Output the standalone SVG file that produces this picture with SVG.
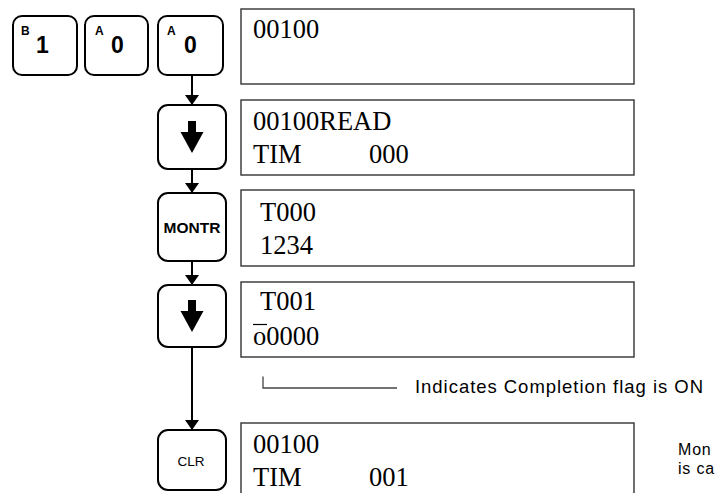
<svg xmlns="http://www.w3.org/2000/svg" width="718" height="493" viewBox="0 0 718 493">
<style>
.key{fill:#fff;stroke:#000;stroke-width:2}
.disp{fill:#fff;stroke:#333;stroke-width:1.4}
.lcd{font-family:"Liberation Serif",serif;font-size:26.5px;fill:#000}
.sup{font-family:"Liberation Sans",sans-serif;font-size:12px;font-weight:bold;fill:#000}
.big{font-family:"Liberation Sans",sans-serif;font-size:23px;font-weight:bold;fill:#000}
.note{font-family:"Liberation Sans",sans-serif;font-size:18.5px;fill:#000}
.conn{stroke:#000;stroke-width:2;fill:none}
</style>
<defs>
<marker id="ah" viewBox="0 0 10 14" refX="10" refY="7" markerWidth="10" markerHeight="14" markerUnits="userSpaceOnUse" orient="auto">
<path d="M0,0 L10,7 L0,14 z" fill="#000"/>
</marker>
<path id="dn" d="M-4,-16 H4 V-5 H11.5 L0,16 L-11.5,-5 H-4 z" fill="#000"/>
</defs>
<g id="connectors">
<line class="conn" x1="192" y1="75" x2="192" y2="105" marker-end="url(#ah)"/>
<line class="conn" x1="192" y1="169" x2="192" y2="193" marker-end="url(#ah)"/>
<line class="conn" x1="192" y1="262" x2="192" y2="285" marker-end="url(#ah)"/>
<line class="conn" x1="192" y1="347" x2="192" y2="430" marker-end="url(#ah)"/>
</g>
<g id="key-1">
<rect class="key" x="13" y="16" width="64" height="59" rx="9"/>
<text class="sup" x="21" y="35">B</text>
<text class="big" x="36" y="53">1</text>
</g>
<g id="key-0a">
<rect class="key" x="85" y="16" width="63" height="59" rx="9"/>
<text class="sup" x="95" y="35">A</text>
<text class="big" x="111" y="53">0</text>
</g>
<g id="key-0b">
<rect class="key" x="158" y="16" width="65" height="59" rx="9"/>
<text class="sup" x="167" y="35">A</text>
<text class="big" x="184" y="53">0</text>
</g>
<g id="key-down1">
<rect class="key" x="158" y="105" width="68" height="64" rx="10"/>
<use href="#dn" x="192" y="137"/>
</g>
<g id="key-montr">
<rect class="key" x="158" y="193" width="68" height="68" rx="10"/>
<text x="192" y="233" text-anchor="middle" font-family="Liberation Sans, sans-serif" font-size="15.5" font-weight="bold">MONTR</text>
</g>
<g id="key-down2">
<rect class="key" x="158" y="285" width="68" height="62" rx="10"/>
<use href="#dn" x="192" y="316"/>
</g>
<g id="key-clr">
<rect class="key" x="158" y="430" width="68" height="60" rx="10"/>
<text x="191" y="466" text-anchor="middle" font-family="Liberation Sans, sans-serif" font-size="13.5">CLR</text>
</g>
<g id="disp-1">
<rect class="disp" x="241" y="9" width="393" height="75"/>
<text class="lcd" x="253" y="38">00100</text>
</g>
<g id="disp-2">
<rect class="disp" x="241" y="100" width="393" height="75"/>
<text class="lcd" x="253" y="130">00100READ</text>
<text class="lcd" x="253" y="163">TIM</text>
<text class="lcd" x="369" y="163">000</text>
</g>
<g id="disp-3">
<rect class="disp" x="241" y="190" width="393" height="76"/>
<text class="lcd" x="260" y="221">T000</text>
<text class="lcd" x="260" y="254">1234</text>
</g>
<g id="disp-4">
<rect class="disp" x="241" y="282" width="393" height="75"/>
<text class="lcd" x="260" y="310">T001</text>
<text class="lcd" x="253" y="345">o0000</text>
<line x1="253" y1="324.5" x2="267" y2="324.5" stroke="#000" stroke-width="1.2"/>
</g>
<g id="disp-5">
<rect class="disp" x="241" y="423" width="393" height="80"/>
<text class="lcd" x="253" y="453">00100</text>
<text class="lcd" x="253" y="486">TIM</text>
<text class="lcd" x="369" y="486">001</text>
</g>
<g id="annotation">
<path d="M263,376.5 V388 H397" fill="none" stroke="#444" stroke-width="1.3"/>
<text class="note" x="415" y="393" textLength="288" lengthAdjust="spacing">Indicates Completion flag is ON</text>
</g>
<g id="note-2">
<text font-family="Liberation Sans, sans-serif" font-size="16" letter-spacing="0.8" x="678" y="455">Mon</text>
<text font-family="Liberation Sans, sans-serif" font-size="16" letter-spacing="0.8" x="678" y="474">is ca</text>
</g>
</svg>
